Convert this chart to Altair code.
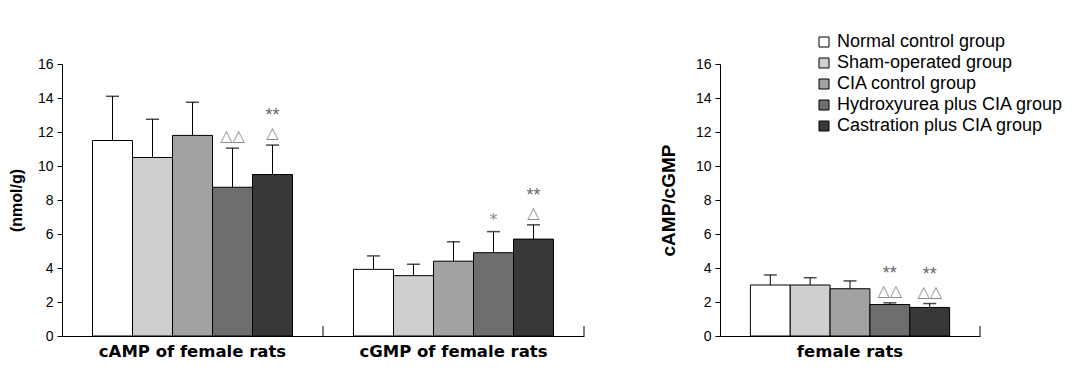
import altair as alt
import pandas as pd

groups = ["Normal control group", "Sham-operated group", "CIA control group",
          "Hydroxyurea plus CIA group", "Castration plus CIA group"]
fills = ["#ffffff", "#cfcfcf", "#a2a2a2", "#6e6e6e", "#383838"]

measures = ["cAMP of female rats", "cGMP of female rats"]
ratio_cat = ["female rats"]

camp_mean = [11.5, 10.5, 11.8, 8.75, 9.5]
camp_sd = [2.6, 2.25, 1.95, 2.3, 1.73]
cgmp_mean = [3.92, 3.55, 4.4, 4.9, 5.7]
cgmp_sd = [0.79, 0.67, 1.14, 1.24, 0.84]
ratio_mean = [3.0, 3.0, 2.78, 1.85, 1.68]
ratio_sd = [0.59, 0.43, 0.46, 0.1, 0.23]

camp_near = ["", "", "", "△△", "△"]
camp_far = ["", "", "", "", "**"]
cgmp_near = ["", "", "", "*", "△"]
cgmp_far = ["", "", "", "", "**"]
ratio_near = ["", "", "", "△△", "△△"]
ratio_far = ["", "", "", "**", "**"]


def rows(cat, means, sds, near, far):
    return [dict(cat=cat, group=g, mean=means[i], upper=means[i] + sds[i],
                 near=near[i], far=far[i]) for i, g in enumerate(groups)]


left_df = pd.DataFrame(rows(measures[0], camp_mean, camp_sd, camp_near, camp_far)
                       + rows(measures[1], cgmp_mean, cgmp_sd, cgmp_near, cgmp_far))
right_df = pd.DataFrame(rows(ratio_cat[0], ratio_mean, ratio_sd, ratio_near, ratio_far))


def panel(df, cats, width, ytitle, tsize, tpad, legend):
    xaxis = alt.Axis(title=None, ticks=False, labelAngle=0, labelFont="DejaVu Sans",
                     labelFontWeight="bold", labelFontSize=16.5, labelColor="black",
                     labelPadding=7, labelLimit=400, domainColor="black", domainWidth=1)
    x = alt.X("cat:N", sort=cats, scale=alt.Scale(paddingInner=0, paddingOuter=0), axis=xaxis)
    xo = alt.XOffset("group:N", sort=groups,
                     scale=alt.Scale(paddingInner=0, paddingOuter=0.7625))
    yaxis = alt.Axis(values=list(range(0, 17, 2)), title=ytitle, grid=False,
                     labelOverlap=False, domainColor="black", tickColor="black", tickSize=5,
                     labelFont="Liberation Sans", labelFontSize=14, labelColor="black",
                     labelPadding=4, titleFont="Liberation Sans", titleFontWeight="bold",
                     titleFontSize=tsize, titleColor="black", titlePadding=tpad)
    ysc = alt.Scale(domain=[0, 16], nice=False)
    y_mean = alt.Y("mean:Q", scale=ysc, axis=yaxis)
    y_up = alt.Y("upper:Q", scale=ysc, axis=yaxis)
    color = alt.Color("group:N", sort=groups,
                      scale=alt.Scale(domain=groups, range=fills), legend=legend)
    base = alt.Chart(df)
    bars = base.mark_bar(stroke="black", strokeWidth=1).encode(
        x=x, xOffset=xo, y=y_mean, color=color)
    err = base.mark_rule(color="black", strokeWidth=1).encode(
        x=x, xOffset=xo, y=y_mean, y2="upper:Q")
    cap = base.mark_tick(color="black", thickness=1.5, size=13).encode(
        x=x, xOffset=xo, y=y_up)
    near = base.mark_text(font="DejaVu Sans", fontSize=16, color="#8a8a8a",
                          baseline="middle", dy=-12).encode(
        x=x, xOffset=xo, y=y_up, text="near:N")
    far = base.mark_text(font="Liberation Sans", fontSize=18, color="#666666",
                         baseline="middle", dy=-29).encode(
        x=x, xOffset=xo, y=y_up, text="far:N")
    edge = alt.Chart(pd.DataFrame({"cat": cats})).mark_rule(color="black").encode(
        x=alt.X("cat:N", sort=cats, bandPosition=1, axis=xaxis),
        y=alt.value(262), y2=alt.value(272))
    return alt.layer(bars, err, cap, near, far, edge).properties(width=width, height=272)


legend = alt.Legend(orient="none", legendX=95, legendY=-31, title=None,
                    symbolType="square", symbolSize=100, symbolStrokeColor="black",
                    symbolStrokeWidth=1, symbolOpacity=1, labelFont="Liberation Sans",
                    labelFontSize=18, labelColor="black", labelLimit=400, rowPadding=3)

left = panel(left_df, measures, 522, "(nmol/g)", 16, 13, None)
right = panel(right_df, ratio_cat, 260, "cAMP/cGMP", 19, 17, legend)

chart = alt.hconcat(left, right, spacing=74).resolve_scale(
    color="independent", x="independent", xOffset="independent", y="independent"
).properties(padding={"left": 0, "top": 25, "right": 5, "bottom": 5}).configure_view(stroke=None)

chart.save("out.html", embed_options={"renderer": "svg", "actions": False})
